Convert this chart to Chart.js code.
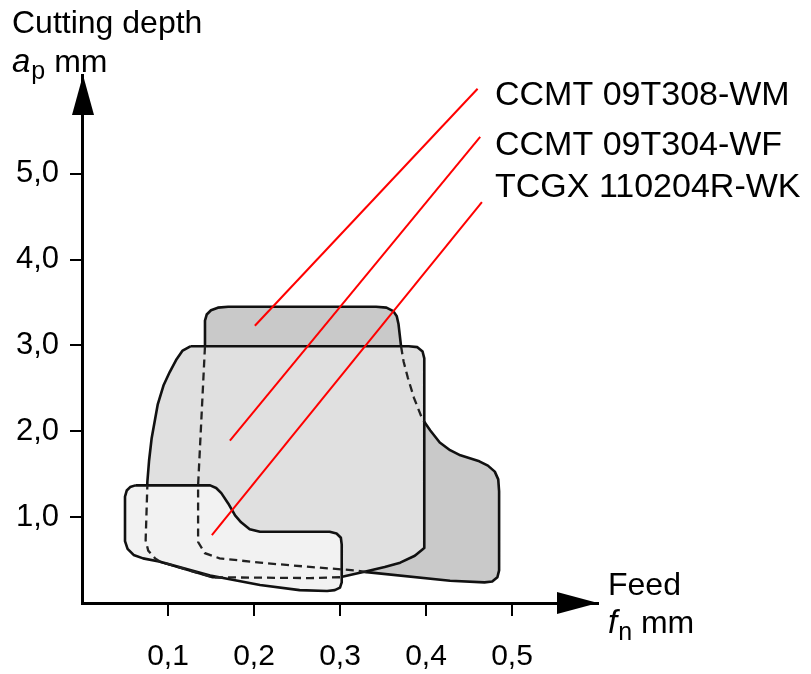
<!DOCTYPE html>
<html>
<head>
<meta charset="utf-8">
<script src="https://cdn.jsdelivr.net/npm/chart.js@4.4.1/dist/chart.umd.min.js"></script>
<style>
  body { margin: 0; background: #fff; }
  #chart { display: block; }
</style>
</head>
<body>
<canvas id="chart" width="811" height="674"></canvas>
<script>
// axis ticks
const feedTicks = [0.1, 0.2, 0.3, 0.4, 0.5];
const feedTickLabels = ["0,1", "0,2", "0,3", "0,4", "0,5"];
const depthTicks = [1, 2, 3, 4, 5];
const depthTickLabels = ["1,0", "2,0", "3,0", "4,0", "5,0"];

const seriesNames = ["CCMT 09T308-WM", "CCMT 09T304-WF", "TCGX 110204R-WK"];

// application areas, outline points as [feed fn mm, depth ap mm]
const areaWM = [
  [0.143, 3.20], [0.143, 3.29], [0.145, 3.36], [0.150, 3.41], [0.158, 3.44], [0.170, 3.45],
  [0.342, 3.45], [0.354, 3.44], [0.362, 3.40], [0.366, 3.34], [0.368, 3.25],
  [0.371, 2.99], [0.374, 2.81],
  [0.379, 2.62], [0.386, 2.39], [0.395, 2.16], [0.398, 2.11], [0.405, 2.01],
  [0.416, 1.87], [0.428, 1.78], [0.440, 1.72], [0.462, 1.65], [0.472, 1.60],
  [0.480, 1.53], [0.484, 1.44], [0.485, 1.30], [0.485, 0.38], [0.483, 0.30], [0.477, 0.25], [0.468, 0.24],
  [0.428, 0.26], [0.331, 0.36], [0.317, 0.38], [0.265, 0.42], [0.207, 0.47],
  [0.160, 0.52], [0.143, 0.58], [0.135, 0.71], [0.135, 1.37], [0.143, 2.99]
];
const areaWF = [
  [0.126, 2.99], [0.380, 2.99], [0.390, 2.98], [0.396, 2.93], [0.398, 2.85], [0.398, 0.64],
  [0.387, 0.55], [0.370, 0.47], [0.352, 0.42], [0.331, 0.37], [0.300, 0.30],
  [0.265, 0.29], [0.152, 0.30], [0.091, 0.48], [0.085, 0.52], [0.077, 0.61],
  [0.074, 0.73], [0.076, 1.41], [0.078, 1.66], [0.081, 1.92], [0.088, 2.31],
  [0.095, 2.54], [0.102, 2.69], [0.110, 2.84], [0.117, 2.94]
];
const areaWK = [
  [0.062, 1.37], [0.149, 1.37], [0.156, 1.34], [0.162, 1.28], [0.170, 1.16],
  [0.178, 1.02], [0.185, 0.94], [0.195, 0.86], [0.207, 0.83], [0.288, 0.83],
  [0.296, 0.81], [0.301, 0.76], [0.302, 0.68], [0.302, 0.24], [0.300, 0.18], [0.294, 0.15], [0.285, 0.14],
  [0.253, 0.15], [0.207, 0.21], [0.149, 0.32], [0.091, 0.48], [0.071, 0.52],
  [0.060, 0.56], [0.053, 0.63], [0.050, 0.72], [0.050, 1.24], [0.052, 1.31], [0.056, 1.35]
];
// hidden edges, drawn dashed
const hiddenWMRight = [[0.371, 2.99], [0.374, 2.81], [0.379, 2.62], [0.386, 2.39], [0.395, 2.16], [0.398, 2.11]];
const hiddenWMLeft = [
  [0.331, 0.36], [0.317, 0.38], [0.265, 0.42], [0.207, 0.47], [0.160, 0.52],
  [0.143, 0.58], [0.135, 0.71], [0.135, 1.37], [0.143, 2.99]
];
const hiddenWF = [
  [0.300, 0.30], [0.265, 0.29], [0.152, 0.30], [0.091, 0.48], [0.085, 0.52],
  [0.077, 0.61], [0.074, 0.73], [0.076, 1.37]
];
// leader lines from label to area
const leaderWM = [[0.201, 3.23], [0.460, 5.99]];
const leaderWF = [[0.172, 1.89], [0.463, 5.43]];
const leaderWK = [[0.151, 0.79], [0.465, 4.67]];

const FONT = '"Liberation Sans", Arial, Helvetica, sans-serif';
Chart.defaults.font.family = FONT;

function pts(arr, close) {
  const d = arr.map(p => ({x: p[0], y: p[1]}));
  if (close) d.push({x: arr[0][0], y: arr[0][1]});
  return d;
}

function area(name, arr, color, order) {
  return {
    label: name, data: pts(arr, true), showLine: true, fill: 'shape',
    backgroundColor: color, borderColor: '#111', borderWidth: 2.6,
    borderJoinStyle: 'round', pointRadius: 0, tension: 0, order: order
  };
}
function dashed(arr) {
  return {
    data: pts(arr, false), showLine: true, fill: false,
    borderColor: '#222', borderWidth: 2.3, borderDash: [8, 5],
    pointRadius: 0, tension: 0, order: 3
  };
}
function leader(arr) {
  return {
    data: pts(arr, false), showLine: true, fill: false,
    borderColor: '#ff0000', borderWidth: 2, pointRadius: 0, order: 1
  };
}

// subscript text helper: italic symbol + subscript + unit
function symbolText(ctx, sym, sub, unit, x, y) {
  ctx.font = 'italic 33px ' + FONT;
  ctx.fillText(sym, x, y);
  x += ctx.measureText(sym).width + 1;
  ctx.font = '25px ' + FONT;
  ctx.fillText(sub, x, y + 7);
  x += ctx.measureText(sub).width;
  ctx.font = '32px ' + FONT;
  ctx.fillText(' ' + unit, x, y);
}

const decor = {
  id: 'decor',
  afterDraw(chart) {
    const {ctx, chartArea: a} = chart;
    ctx.save();
    ctx.fillStyle = '#000';
    // axis arrows
    ctx.beginPath();
    ctx.moveTo(a.left + 1, a.top);
    ctx.lineTo(a.left - 10, a.top + 40);
    ctx.lineTo(a.left + 12, a.top + 40);
    ctx.closePath();
    ctx.fill();
    ctx.beginPath();
    ctx.moveTo(a.right, a.bottom);
    ctx.lineTo(a.right - 41, a.bottom - 11);
    ctx.lineTo(a.right - 41, a.bottom + 11);
    ctx.closePath();
    ctx.fill();
    // axis titles
    ctx.textBaseline = 'alphabetic';
    ctx.textAlign = 'left';
    ctx.font = '32px ' + FONT;
    ctx.fillText('Cutting depth', 12, 33);
    symbolText(ctx, 'a', 'p', 'mm', 12, 72);
    ctx.font = '32px ' + FONT;
    ctx.fillText('Feed', a.right + 10, a.bottom - 8);
    symbolText(ctx, 'f', 'n', 'mm', a.right + 10, a.bottom + 30);
    // series labels
    ctx.font = '34px ' + FONT;
    ctx.fillText(seriesNames[0], 495, 105);
    ctx.fillText(seriesNames[1], 495, 155);
    ctx.fillText(seriesNames[2], 495, 197);
    ctx.restore();
  }
};

new Chart(document.getElementById('chart'), {
  type: 'scatter',
  data: {
    datasets: [
      leader(leaderWM), leader(leaderWF), leader(leaderWK),
      dashed(hiddenWMRight), dashed(hiddenWMLeft), dashed(hiddenWF),
      area(seriesNames[2], areaWK, '#f2f2f2', 7),
      area(seriesNames[1], areaWF, '#e0e0e0', 8),
      area(seriesNames[0], areaWM, '#c9c9c9', 9)
    ]
  },
  options: {
    responsive: false,
    animation: false,
    events: [],
    layout: { padding: { top: 75, right: 213, left: 0, bottom: 0 } },
    plugins: { legend: { display: false }, tooltip: { enabled: false } },
    scales: {
      x: {
        type: 'linear', min: 0, max: 0.6,
        afterBuildTicks: s => { s.ticks = feedTicks.map(v => ({value: v})); },
        afterFit: s => { s.height = 71; },
        ticks: {
          callback: (v, i) => feedTickLabels[i],
          font: { size: 30 }, color: '#000', padding: 23, maxRotation: 0
        },
        grid: { drawOnChartArea: false, drawTicks: true, tickLength: 13, color: '#000', lineWidth: 2 },
        border: { display: true, color: '#000', width: 3 }
      },
      y: {
        type: 'linear', min: 0, max: 6.15,
        afterBuildTicks: s => { s.ticks = depthTicks.map(v => ({value: v})); },
        afterFit: s => { s.width = 82; },
        ticks: {
          callback: (v, i) => depthTickLabels[i],
          font: { size: 31 }, color: '#000', padding: 11
        },
        grid: { drawOnChartArea: false, drawTicks: true, tickLength: 12, color: '#000', lineWidth: 2 },
        border: { display: true, color: '#000', width: 3 }
      }
    }
  },
  plugins: [decor]
});
</script>
</body>
</html>
